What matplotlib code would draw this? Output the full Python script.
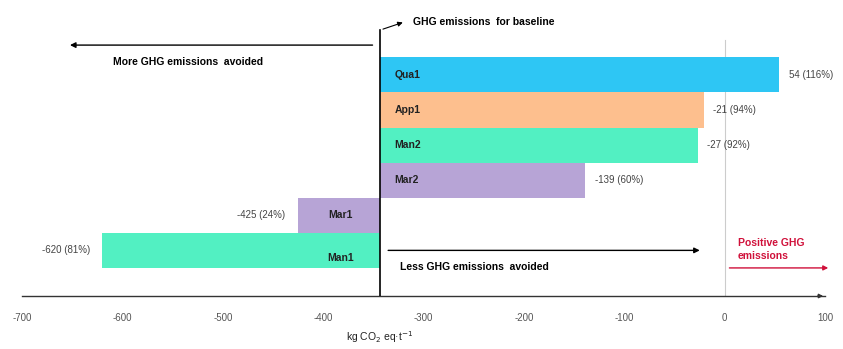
import matplotlib.pyplot as plt

plt.rcParams['font.family'] = ['Liberation Sans', 'DejaVu Sans']
plt.rcParams['axes.unicode_minus'] = False

# scenario results, kg CO2 eq per tonne
scenarios = ["Qua1", "App1", "Man2", "Mar2", "Mar1", "Man1"]
values = [54, -21, -27, -139, -425, -620]
pct_of_baseline = [116, 94, 92, 60, 24, 81]
baseline = -343
colors = ["#2ec6f4", "#fdbf8e", "#52f0c2", "#b7a4d6", "#b7a4d6", "#52f0c2"]
xticks = [-700, -600, -500, -400, -300, -200, -100, 0, 100]

fig = plt.figure(figsize=(8.43, 3.49), dpi=100)
ax = fig.add_axes([22 / 843, 1 - 296 / 349, 803 / 843, 286 / 349])

rows = list(range(len(scenarios)))
widths = [v - baseline for v in values]
ax.barh(rows, widths, left=baseline, height=1.0, color=colors, edgecolor="none", zorder=2)

ax.set_xlim(-700, 100)
ax.set_ylim(6.3, -1.85)

# scenario names inside the bars, value labels outside
for i, (name, v, p) in enumerate(zip(scenarios, values, pct_of_baseline)):
    label = f"{v} ({p}%)"
    if v > baseline:
        ax.text(baseline + 14, i, name, ha="left", va="center", fontsize=7.5,
                fontweight="bold", color="#222222", zorder=3)
        ax.annotate(label, (v, i), xytext=(7, 0), textcoords="offset points",
                    ha="left", va="center", fontsize=7, color="#444444")
    else:
        dy = 0.22 if name == "Man1" else 0
        ax.text(baseline - 40, i + dy, name, ha="center", va="center", fontsize=7.5,
                fontweight="bold", color="#222222", zorder=3)
        ax.annotate(label, (v, i), xytext=(-9, 0), textcoords="offset points",
                    ha="right", va="center", fontsize=7, color="#444444")

# baseline and zero lines
ax.plot([baseline, baseline], [-1.28, 6.3], color="black", lw=1.2, zorder=4)
ax.plot([0, 0], [-1.0, 6.3], color="#cccccc", lw=0.8, zorder=1)

ax.annotate("", xy=(-318, -1.52), xytext=(baseline, -1.28),
            arrowprops=dict(arrowstyle="-|>", color="black", lw=0.8, mutation_scale=7))
ax.text(-310, -1.52, "GHG emissions  for baseline", fontsize=7.5, fontweight="bold",
        va="center", ha="left")

ax.annotate("", xy=(-655, -0.85), xytext=(-348, -0.85),
            arrowprops=dict(arrowstyle="-|>", color="black", lw=1.0, mutation_scale=8))
ax.text(-609, -0.37, "More GHG emissions  avoided", fontsize=7.5, fontweight="bold",
        va="center", ha="left")

ax.annotate("", xy=(-22, 5.0), xytext=(-338, 5.0),
            arrowprops=dict(arrowstyle="-|>", color="black", lw=1.0, mutation_scale=8))
ax.text(-323, 5.47, "Less GHG emissions  avoided", fontsize=7.5, fontweight="bold",
        va="center", ha="left")

ax.annotate("", xy=(106, 5.5), xytext=(2, 5.5), annotation_clip=False,
            arrowprops=dict(arrowstyle="-|>", color="#d0103a", lw=1.0, mutation_scale=7))
ax.text(13, 4.98, "Positive GHG\nemissions", fontsize=7.5, fontweight="bold",
        color="#d0103a", va="center", ha="left", linespacing=1.35)

# x axis with arrow at the right end
for side in ["top", "right", "left"]:
    ax.spines[side].set_visible(False)
ax.spines["bottom"].set_color("#333333")
ax.spines["bottom"].set_linewidth(1.0)
ax.annotate("", xy=(101, 6.3), xytext=(90, 6.3), annotation_clip=False,
            arrowprops=dict(arrowstyle="-|>", color="#333333", lw=1.0, mutation_scale=6))
ax.set_yticks([])
ax.set_xticks(xticks)
ax.tick_params(axis="x", length=0, pad=12, labelsize=7, labelcolor="#555555")
ax.set_xlabel("kg CO$_2$ eq·t$^{-1}$", fontsize=7.5, color="#222222")
ax.xaxis.set_label_coords((380 - 22) / 803, -0.115)

fig.savefig("out.png", dpi=100)
